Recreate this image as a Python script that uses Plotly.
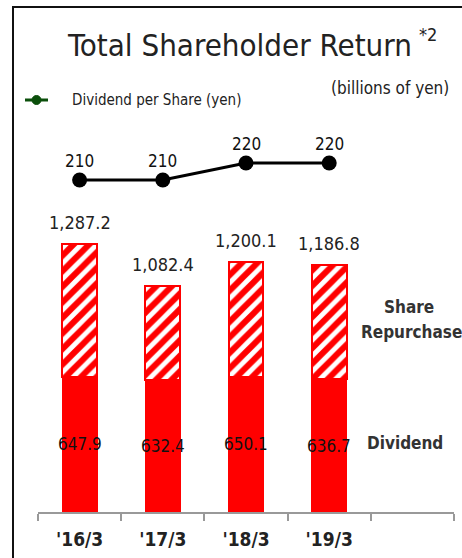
import plotly.graph_objects as go

categories = ["'16/3", "'17/3", "'18/3", "'19/3"]
dividend = [647.9, 632.4, 650.1, 636.7]
totals = [1287.2, 1082.4, 1200.1, 1186.8]
repurchase = [round(t - d, 1) for t, d in zip(totals, dividend)]
dps = [210, 210, 220, 220]
total_labels = ["1,287.2", "1,082.4", "1,200.1", "1,186.8"]
dividend_labels = ["647.9", "632.4", "650.1", "636.7"]
slots = categories + [" "]

W, H = 462, 558
FONT = "DejaVu Sans Condensed"
RED = "#ff0000"

fig = go.Figure()
fig.add_bar(x=categories, y=dividend, marker=dict(color=RED, line=dict(color=RED, width=1)),
            width=0.42, showlegend=False, hoverinfo="skip")
fig.add_bar(x=categories, y=repurchase,
            marker=dict(color="white", line=dict(color=RED, width=2),
                        pattern=dict(shape="/", fgcolor=RED, fgopacity=1, bgcolor="white",
                                     size=11, solidity=0.55)),
            width=0.42, showlegend=False, hoverinfo="skip")
fig.add_scatter(x=categories, y=dps, yaxis="y2", mode="lines+markers",
                line=dict(color="black", width=3), marker=dict(color="black", size=15),
                showlegend=False, hoverinfo="skip")

ann = []
for c, t, lab in zip(categories, totals, total_labels):
    ann.append(dict(x=c, y=t, text=lab, showarrow=False, yanchor="bottom", yshift=9,
                    font=dict(size=18, color="#222")))
for c, d, lab in zip(categories, dividend, dividend_labels):
    ann.append(dict(x=c, y=d / 2, text=lab, showarrow=False, yanchor="middle",
                    font=dict(size=17, color="#111")))
for c, v in zip(categories, dps):
    ann.append(dict(x=c, y=v, yref="y2", text=str(v), showarrow=False, yanchor="bottom", yshift=7,
                    font=dict(size=17, color="#111")))

def px(x, y):
    return x / W, 1 - y / H

def tann(x, y, text, size, color="#222", xanchor="center", bold=False):
    xx, yy = px(x, y)
    if bold:
        text = "<b>" + text + "</b>"
    return dict(x=xx, y=yy, xref="paper", yref="paper", text=text, showarrow=False,
                xanchor=xanchor, yanchor="middle", font=dict(size=size, color=color))

ann += [
    tann(240, 45, "Total Shareholder Return", 31, "#222"),
    tann(428, 34, "*2", 18, "#222"),
    tann(451, 88, "(billions of yen)", 17, "#222", xanchor="right"),
    tann(70, 100, "Dividend per Share (yen)", 15, "#222", xanchor="left"),
    tann(409, 307, "Share", 17, "#333", bold=True),
    tann(411, 332, "Repurchase", 17, "#333", bold=True),
    tann(405, 443, "Dividend", 17, "#333", bold=True),
]

shapes = [
    dict(type="line", xref="paper", yref="paper", x0=12 / W, x1=1, y0=1 - 7 / H, y1=1 - 7 / H,
         line=dict(color="#111", width=2)),
    dict(type="line", xref="paper", yref="paper", x0=13 / W, x1=13 / W, y0=0, y1=1 - 7 / H,
         line=dict(color="#111", width=2)),
    dict(type="line", xref="paper", yref="paper", x0=25 / W, x1=48 / W, y0=1 - 100 / H, y1=1 - 100 / H,
         line=dict(color="#0b4f0b", width=3)),
    dict(type="circle", xref="paper", yref="paper", x0=32 / W, x1=41 / W,
         y0=1 - 104.5 / H, y1=1 - 95.5 / H, fillcolor="#0b4f0b", line=dict(color="#0b4f0b", width=1)),
]

base_frac = (H - 512) / H
fig.update_layout(
    width=W, height=H, margin=dict(l=0, r=0, t=0, b=0),
    paper_bgcolor="white", plot_bgcolor="white",
    barmode="stack", font=dict(family=FONT, color="#222"),
    annotations=ann, shapes=shapes,
    xaxis=dict(domain=[38 / W, 454 / W], type="category", categoryorder="array", categoryarray=slots,
               range=[-0.5, 4.5], tickson="boundaries", ticks="outside", ticklen=7, tickwidth=2,
               tickcolor="#999", showline=True, linecolor="#999", linewidth=2, showgrid=False,
               tickfont=dict(size=19, color="#222", family=FONT), ticklabelstandoff=9,
               tickprefix="<b>", ticksuffix="</b>", fixedrange=True),
    yaxis=dict(domain=[base_frac, 1], range=[0, 512 / 0.2084], visible=False, fixedrange=True),
    yaxis2=dict(domain=[base_frac, 1], overlaying="y", range=[210 - 332 / 1.7, 210 - 332 / 1.7 + 512 / 1.7],
                visible=False, fixedrange=True),
)

fig.write_html("out.html", config={"displayModeBar": False},
               post_script="document.body.style.margin='0';")
